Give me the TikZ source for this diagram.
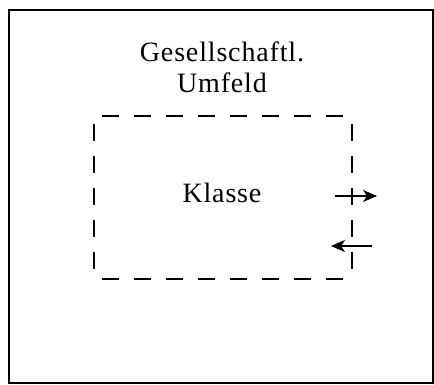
\documentclass[tikz,border=0pt]{standalone}
\usepackage{fontspec}
\setmainfont{Liberation Serif}[LetterSpace=3]
\usetikzlibrary{arrows.meta}

\begin{document}
\begin{tikzpicture}[x=1pt,y=1pt,yscale=-1,xscale=1]
\tikzset{
  boxside/.style={line width=1.5pt, dash pattern=on 17pt off 15pt, dash phase=24pt},
  flow/.style={line width=1.4pt, -{Stealth[length=14pt,width=12pt,inset=4pt]}},
  label/.style={inner sep=0pt, anchor=base, font=\fontsize{28}{31}\selectfont}
}
\useasboundingbox (0,0) rectangle (434,385);

%Shape: Rectangle [id:outer frame]
\draw [line width=1.8pt] (9,10) rectangle (433,383);

% corners of the dashed box
\coordinate (nw) at (94,116);
\coordinate (ne) at (352,116);
\coordinate (sw) at (94,279);
\coordinate (se) at (352,279);

%Shape: Dashed Rectangle [id:klasse box]
\draw [boxside] (nw) -- (ne);
\draw [boxside] (sw) -- (se);
\draw [boxside] (nw) -- (sw);
\draw [boxside] (ne) -- (se);

%Straight Lines [id:out arrow]
\coordinate (outA) at (335,196);
\coordinate (outB) at (377,196);
\draw [flow] (outA) -- (outB);
%Straight Lines [id:in arrow]
\coordinate (inA) at (372,246);
\coordinate (inB) at (331,246);
\draw [flow] (inA) -- (inB);

% Text Node
\node [label] (gesell) at (222,62) {Gesellschaftl.};
% Text Node
\node [label] (umfeld) at (222,93) {Umfeld};
% Text Node
\node [label] (klasse) at (222,203) {Klasse};
\end{tikzpicture}
\end{document}
